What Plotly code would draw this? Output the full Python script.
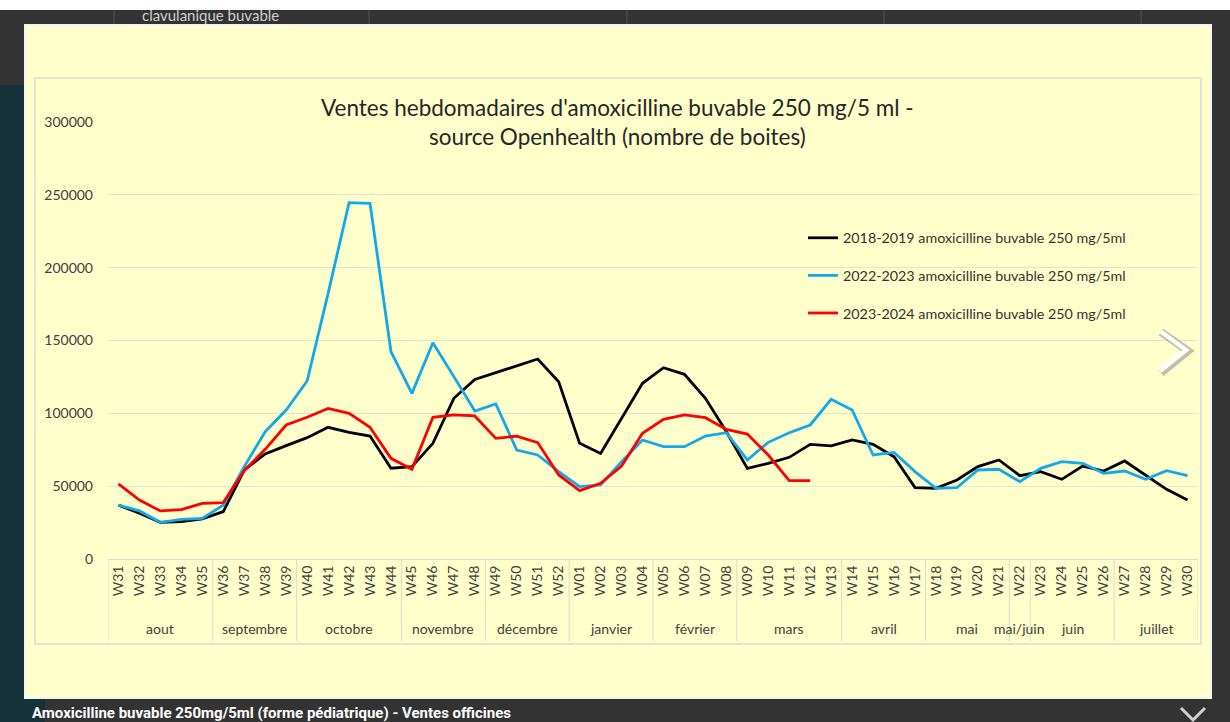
import plotly.graph_objects as go

# ---------------- data ----------------
weeks = ["W31", "W32", "W33", "W34", "W35", "W36", "W37", "W38", "W39", "W40",
         "W41", "W42", "W43", "W44", "W45", "W46", "W47", "W48", "W49", "W50",
         "W51", "W52", "W01", "W02", "W03", "W04", "W05", "W06", "W07", "W08",
         "W09", "W10", "W11", "W12", "W13", "W14", "W15", "W16", "W17", "W18",
         "W19", "W20", "W21", "W22", "W23", "W24", "W25", "W26", "W27", "W28",
         "W29", "W30"]

month_names = ["aout", "septembre", "octobre", "novembre", "décembre", "janvier",
               "février", "mars", "avril", "mai", "mai/juin", "juin", "juillet"]
month_week_counts = [5, 4, 5, 4, 4, 4, 4, 5, 4, 4, 1, 4, 4]

sales_2018_2019 = [37000, 31400, 25200, 25600, 27500, 32500, 61100, 72100, 77800, 83300,
                   90400, 87000, 84400, 62300, 63400, 79400, 110300, 123300, 127900, 132500,
                   137300, 121700, 79400, 72500, 96600, 120600, 131300, 126800, 110300, 87400,
                   62200, 65700, 69800, 78700, 77600, 81700, 78700, 70200, 49000, 48500,
                   54200, 63400, 68000, 57200, 60000, 54700, 63800, 60400, 67300, 57700,
                   47800, 40500]

sales_2022_2023 = [37000, 33000, 25200, 27200, 27900, 37000, 63400, 87400, 102300, 122200,
                   182400, 244600, 244200, 142300, 113700, 148500, 125200, 101600, 106400, 74800,
                   71400, 60000, 49700, 50800, 66800, 81700, 77100, 77100, 84400, 86700,
                   68000, 80100, 86700, 92000, 109600, 102300, 71400, 73200, 60000, 48500,
                   49000, 61100, 61600, 53100, 62200, 66800, 65700, 58800, 60400, 54700,
                   60600, 57200]

sales_2023_2024 = [51500, 40500, 33000, 33900, 38200, 38700, 60600, 75300, 92000, 97300,
                   103400, 100000, 90400, 69100, 61600, 97300, 98900, 98200, 82800, 84400,
                   79900, 57700, 46900, 52000, 63800, 86300, 95900, 98900, 97000, 89000,
                   85800, 71400, 53800, 53800, None, None, None, None, None, None,
                   None, None, None, None, None, None, None, None, None, None,
                   None, None]

series_names = ["2018-2019 amoxicilline buvable 250 mg/5ml",
                "2022-2023 amoxicilline buvable 250 mg/5ml",
                "2023-2024 amoxicilline buvable 250 mg/5ml"]
series_colors = ["#000000", "#13a8e8", "#ff0000"]

y_ticks = [0, 50000, 100000, 150000, 200000, 250000, 300000]

title_text = "Ventes hebdomadaires d'amoxicilline buvable 250 mg/5 ml -<br>source Openhealth (nombre de boites)"
caption_text = "Amoxicilline buvable 250mg/5ml (forme pédiatrique) - Ventes officines"

# --------------- layout helpers ---------------
W_FIG, H_FIG = 1230, 722
L, R, T, B = 108, 1198, 122, 559   # plot area in pixels


def px(x):
    return (x - L) / (R - L)


def py(y):
    return (B - y) / (B - T)


FONT = "Lato"
fig = go.Figure()
for name, vals, col in zip(series_names,
                           [sales_2018_2019, sales_2022_2023, sales_2023_2024],
                           series_colors):
    fig.add_trace(go.Scatter(x=weeks, y=vals, mode="lines", name=name,
                             legendgroup=name,
                             line=dict(color=col, width=2.8),
                             connectgaps=False))

shapes = []
# dark page background pieces
shapes.append(dict(type="rect", xref="paper", yref="paper", x0=px(0), x1=px(W_FIG),
                   y0=py(0), y1=py(10), fillcolor="#ffffff", line=dict(width=0), layer="below"))
shapes.append(dict(type="rect", xref="paper", yref="paper", x0=px(0), x1=px(25),
                   y0=py(85), y1=py(722), fillcolor="#15323a", line=dict(width=0), layer="below"))
shapes.append(dict(type="rect", xref="paper", yref="paper", x0=px(0), x1=px(45),
                   y0=py(699), y1=py(722), fillcolor="#15323a", line=dict(width=0), layer="below"))
for xv in [114, 369, 627, 884, 1141]:
    shapes.append(dict(type="line", xref="paper", yref="paper", x0=px(xv), x1=px(xv),
                       y0=py(10), y1=py(25), line=dict(color="#555555", width=1), layer="below"))
# yellow lightbox panel
shapes.append(dict(type="rect", xref="paper", yref="paper", x0=px(25), x1=px(1211),
                   y0=py(25), y1=py(698), fillcolor="#ffffcc",
                   line=dict(color="#f4f4f0", width=2), layer="below"))
# chart area border
shapes.append(dict(type="rect", xref="paper", yref="paper", x0=px(35), x1=px(1201),
                   y0=py(78), y1=py(644), fillcolor="rgba(0,0,0,0)",
                   line=dict(color="#d9d9d9", width=1.5), layer="below"))

# month group dividers and labels (category axis table)
annotations = []
start = 0
bounds = [-0.5]
for name, n in zip(month_names, month_week_counts):
    center = start + (n - 1) / 2
    annotations.append(dict(text=name, xref="x", yref="paper", x=center, y=py(628),
                            xanchor="center", yanchor="middle", showarrow=False,
                            font=dict(family=FONT, size=14, color="#404040")))
    start += n
    bounds.append(start - 0.5)
for bx in bounds:
    shapes.append(dict(type="line", xref="x", yref="paper", x0=bx, x1=bx,
                       y0=py(559), y1=py(641), line=dict(color="#d9d9d9", width=1),
                       layer="below"))

# next chevron with shadow
shapes.append(dict(type="path", xref="paper", yref="paper",
                   path=f"M {px(1161)},{py(332)} L {px(1188)},{py(351)} L {px(1161)},{py(373)}",
                   line=dict(color="rgba(140,140,140,0.55)", width=8), layer="above"))
shapes.append(dict(type="path", xref="paper", yref="paper",
                   path=f"M {px(1160)},{py(331)} L {px(1186)},{py(350)} L {px(1160)},{py(371)}",
                   line=dict(color="#ffffff", width=4.5), layer="above"))
# close chevron at bottom right
shapes.append(dict(type="path", xref="paper", yref="paper",
                   path=f"M {px(1181)},{py(708)} L {px(1193)},{py(720)} L {px(1205)},{py(708)}",
                   line=dict(color="#d0d0d0", width=3), layer="above"))

annotations += [
    dict(text=title_text, xref="paper", yref="paper", x=px(617), y=py(122),
         xanchor="center", yanchor="middle", showarrow=False,
         font=dict(family=FONT, size=22.5, color="#262626")),
    dict(text=caption_text, xref="paper", yref="paper", x=px(30), y=py(713),
         xanchor="left", yanchor="middle", showarrow=False,
         font=dict(family="Roboto", size=15, color="#ffffff", weight="bold")),
    dict(text="clavulanique buvable", xref="paper", yref="paper", x=px(140), y=py(26),
         xanchor="left", yanchor="bottom", showarrow=False,
         font=dict(family=FONT, size=15, color="#d0d0d0")),
]

fig.update_layout(
    width=W_FIG, height=H_FIG,
    margin=dict(l=L, r=W_FIG - R, t=T, b=H_FIG - B, autoexpand=False),
    paper_bgcolor="#333333",
    plot_bgcolor="rgba(0,0,0,0)",
    shapes=shapes,
    annotations=annotations,
    showlegend=True,
    legend=dict(x=px(803), y=py(222), xanchor="left", yanchor="top",
                bgcolor="rgba(0,0,0,0)", traceorder="grouped", tracegroupgap=16,
                font=dict(family=FONT, size=14.3, color="#333333")),
    xaxis=dict(type="category", range=[-0.5, 51.5], tickangle=-90, showline=True,
               linecolor="#d9d9d9", linewidth=1, showgrid=False, ticks="",
               tickfont=dict(family=FONT, size=14, color="#404040")),
    yaxis=dict(range=[0, 300000], tickvals=y_ticks, tickformat="d",
               showgrid=True, gridcolor="#e2e2d6", gridwidth=1,
               zeroline=False, showline=False, ticks="",
               ticklabelstandoff=14,
               tickfont=dict(family=FONT, size=14, color="#404040")),
)

fig.write_html("out.html", config={"displayModeBar": False},
               post_script="document.body.style.margin='0';")
